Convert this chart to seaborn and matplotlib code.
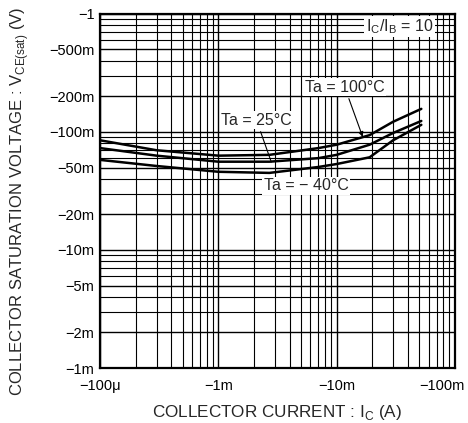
import numpy as np
import pandas as pd
import matplotlib
matplotlib.use("Agg")
import matplotlib.pyplot as plt
import matplotlib.transforms as mtransforms
from matplotlib.ticker import FixedLocator, FixedFormatter, LogLocator, NullFormatter
import seaborn as sns

# --- データ (読み取り値) ---
ic = [1e-4, 3e-4, 1e-3, 2.7e-3, 7e-3, 10e-3, 19e-3, 30e-3, 52e-3]          # A
vce_100 = [85e-3, 70e-3, 63e-3, 64e-3, 73e-3, 78e-3, 94e-3, 122e-3, 157e-3]  # V
vce_25 = [73e-3, 63e-3, 56e-3, 56e-3, 60e-3, 64e-3, 78e-3, 98e-3, 124e-3]
vce_m40 = [58e-3, 51.5e-3, 46e-3, 45e-3, 50.5e-3, 53.5e-3, 61e-3, 85e-3, 115e-3]
temps = ['100', '25', '-40']

x_ticks = [1e-4, 1e-3, 1e-2, 1e-1]
x_labels = ['\u2212100\u03bc', '\u22121m', '\u221210m', '\u2212100m']
y_ticks = [1e-3, 2e-3, 5e-3, 1e-2, 2e-2, 5e-2, 1e-1, 2e-1, 5e-1, 1]
y_labels = ['\u22121m', '\u22122m', '\u22125m', '\u221210m', '\u221220m', '\u221250m',
            '\u2212100m', '\u2212200m', '\u2212500m', '\u22121']

df = pd.concat([
    pd.DataFrame({'ic': ic, 'vce': v, 'Ta': t})
    for v, t in zip([vce_100, vce_25, vce_m40], temps)
])

sns.set_style('white')
plt.rcParams['font.family'] = ['Liberation Sans', 'DejaVu Sans']

fig = plt.figure(figsize=(4.68, 4.23), dpi=100)
ax = fig.add_axes([0.214, 0.130, 0.758, 0.837])

sns.lineplot(data=df, x='ic', y='vce', hue='Ta', palette=['black'] * 3,
             linewidth=1.8, legend=False, ax=ax)

ax.set_xscale('log')
ax.set_yscale('log')
ax.set_xlim(1e-4, 1e-1)
ax.set_ylim(1e-3, 1)

# グリッド (主・副)
ax.xaxis.set_minor_locator(LogLocator(base=10, subs=np.arange(2, 10)))
ax.yaxis.set_minor_locator(LogLocator(base=10, subs=np.arange(2, 10)))
ax.xaxis.set_minor_formatter(NullFormatter())
ax.yaxis.set_minor_formatter(NullFormatter())
ax.grid(which='major', color='black', linewidth=1.0)
ax.grid(which='minor', color='black', linewidth=0.8)

ax.xaxis.set_major_locator(FixedLocator(x_ticks))
ax.xaxis.set_major_formatter(FixedFormatter(x_labels))
ax.yaxis.set_major_locator(FixedLocator(y_ticks))
ax.yaxis.set_major_formatter(FixedFormatter(y_labels))
ax.tick_params(which='both', length=0, labelsize=10.5, colors='black')
ax.tick_params(axis='x', pad=8)
ax.tick_params(axis='y', pad=4)

# 右端のラベルを内側へ寄せる
last = ax.get_xticklabels()[-1]
last.set_horizontalalignment('right')
last.set_transform(last.get_transform() + mtransforms.ScaledTranslation(0.1, 0, fig.dpi_scale_trans))

for s in ax.spines.values():
    s.set_color('black')
    s.set_linewidth(1.6)

ax.set_xlabel('COLLECTOR CURRENT : I$_\\mathregular{C}$ (A)', fontsize=12.3, labelpad=7)
ax.set_ylabel('COLLECTOR SATURATION VOLTAGE : V$_\\mathregular{CE(sat)}$ (V)',
              fontsize=12.0, labelpad=6)
ax.yaxis.set_label_coords(-0.195, 0.47)

box = dict(facecolor='white', edgecolor='none', pad=1)
ax.text(0.034, 0.78, 'I$_\\mathregular{C}$/I$_\\mathregular{B}$ = 10', fontsize=11.5,
        ha='center', va='center', bbox=box)
ax.annotate('Ta = 100\u00b0C', xy=(16.6e-3, 0.091), xytext=(11.7e-3, 0.24),
            fontsize=11.5, ha='center', va='center', bbox=box,
            arrowprops=dict(arrowstyle='-|>', color='black', lw=0.8,
                            mutation_scale=7, shrinkA=2, shrinkB=0))
ax.annotate('Ta = 25\u00b0C', xy=(2.8e-3, 0.0557), xytext=(2.1e-3, 0.126),
            fontsize=11.5, ha='center', va='center', bbox=box,
            arrowprops=dict(arrowstyle='-', color='black', lw=0.8,
                            shrinkA=2, shrinkB=0))
ax.text(5.5e-3, 0.035, 'Ta = \u2212 40\u00b0C', fontsize=11.5,
        ha='center', va='center', bbox=box)

plt.savefig('out.png', dpi=100)
